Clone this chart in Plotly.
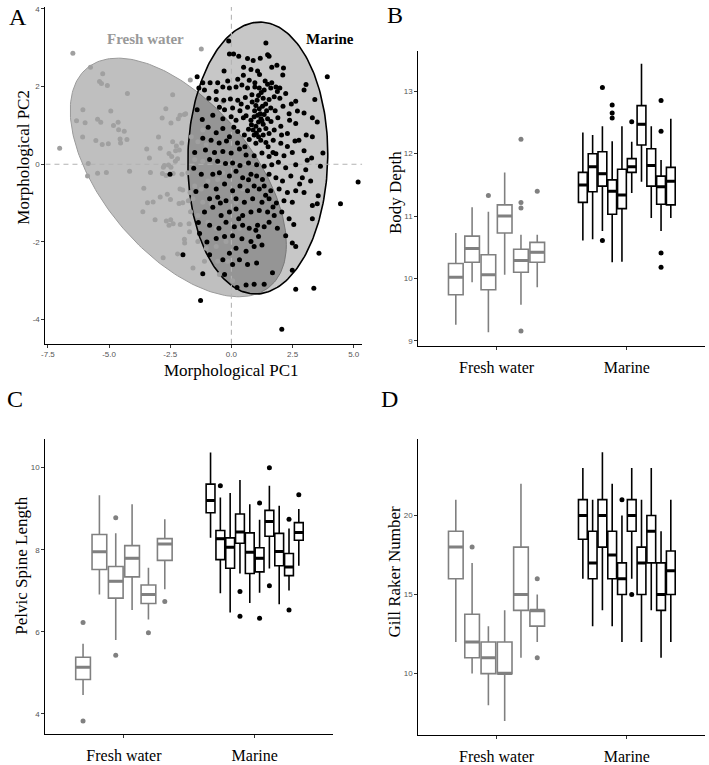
import numpy as np
import plotly.graph_objects as go

# ---------------- Panel A data (Morphological PCA) ----------------
fresh_pc1 = [-6.48, -5.76, -5.26, -5.39, -5.31, -5.07, -4.25, -2.40, -1.68, -6.07,
             -4.93, -6.33, -5.98, -5.47, -5.34, -4.63, -4.82, -4.61, -4.38, -2.68,
             -2.83, -2.47, -2.17, -2.10, -1.92, -6.08, -5.54, -5.28, -5.03, -4.55,
             -4.53, -4.27, -2.98, -3.46, -2.91, -2.40, -2.25, -2.03, -2.28, -2.13,
             -2.55, -2.44, -3.35, -2.20, -2.29, -5.85, -5.88, -5.47, -5.11, -4.16,
             -3.31, -2.74, -2.57, -2.78, -2.47, -2.82, -2.67, -2.38, -2.02, -7.02,
             -3.58, -3.43, -3.20, -2.91, -2.62, -2.49, -2.14, -1.99, -2.10, -1.99,
             -3.62, -3.12, -2.66, -2.48, -2.55, -2.38, -2.09, -1.73, -1.92, -1.91,
             -2.20, -2.79, -1.69, -1.76, -1.67,
             -1.23, -1.87, -1.17, -1.64, -1.37, -1.03, -1.50, -1.17, -0.76, -1.78,
             -1.50, -1.23, -0.96, -0.56, -1.57, -1.17, -0.83, -1.37, -0.96, -0.62,
             -1.71, -1.37, -1.03, -0.62, -0.22, -0.56, -1.10, -1.57, -0.15, 0.05,
             -0.49, 0.33, 0.19, 0.46, -0.35, -0.35]
fresh_pc2 = [2.86, 2.50, 2.33, 2.13, 2.08, 2.03, 1.82, 1.79, 2.17, 1.40,
             1.37, 1.12, 1.07, 1.16, 1.08, 1.08, 1.00, 0.89, 0.85, 1.43,
             1.19, 1.06, 1.17, 1.26, 1.28, 0.70, 0.61, 0.51, 0.53, 0.65,
             0.55, 0.64, 0.70, 0.39, 0.41, 0.58, 0.47, 0.55, 0.35, 0.37,
             0.28, 0.20, 0.16, 0.14, 0.08, 0.02, -0.30, -0.23, -0.21, -0.18,
             -0.21, -0.03, -0.02, -0.08, -0.08, -0.24, -0.29, -0.24, -0.26, 0.41,
             -0.62, -0.99, -0.97, -0.84, -0.77, -0.91, -1.01, -0.99, -0.64, -0.66,
             -1.22, -1.43, -1.46, -1.43, -1.57, -1.53, -1.55, -1.53, -1.93, -2.03,
             -2.31, -2.41, -0.73, -0.94, -1.22,
             2.97, 1.30, 0.88, 0.71, 0.58, 0.50, 0.12, 0.08, 0.20, -0.22,
             -0.56, -0.64, -0.43, -0.39, -0.89, -0.98, -1.02, -1.32, -1.49, -1.65,
             -1.74, -1.99, -2.16, -2.12, -1.99, -2.50, -2.50, -2.67, -2.50, -3.00,
             -2.84, -1.65, -0.98, -0.64, -0.22, 1.61]

marine_pc1 = [-0.11, 1.41, -0.08, 0.09, 0.30, 0.66, 0.89, 1.18, 1.48, 1.54,
              1.86, 2.13, 3.92, 0.80, 1.07, 1.15, -1.17, -0.87, -0.56, -0.15,
              0.26, 0.49, 0.73, 0.96, 1.38, 1.48, 1.65, 1.82, 1.98, 1.88,
              1.61, 1.34, 1.14, 0.96, 0.66, 0.43, 0.19, -0.08, -0.35, -0.62,
              -1.33, -1.10, 2.97, -0.92, -0.62, -0.31, -0.04, 0.26, 0.57, 0.84,
              1.11, 1.30, 1.54, 1.75, 1.98, 2.22, 2.63, 3.41, -0.49, -0.28,
              0.05, 0.35, 0.66, 1.00, 1.14, 1.27, 1.44, 1.61, 1.79, 2.11,
              2.36, 2.70, 2.97, -1.19, -0.76, -0.35, -0.01, 0.19, 0.49, 0.80,
              0.93, 1.07, 1.21, 1.34, 1.48, 1.11, 1.30, 1.00, 0.89, 1.14,
              1.41, 0.93, 1.11, 1.30, 1.54, 1.75, 2.02, 2.38, 2.63, 3.31,
              3.51, 2.29, 2.76, 3.06, 3.31, -0.35, -0.62, -1.17, -0.83, -0.08,
              0.26, 0.53, 0.73, 1.00, 1.41, 1.71, 2.02, 2.29, -1.06, -0.69,
              -0.35, -0.01, 0.33, 0.60, 0.93, 1.25, 1.54, 1.82, 2.15, 2.49,
              2.97, 3.28, 3.74, 3.64, -0.89, -0.56, -0.24, 0.05, 0.35, 0.70,
              1.03, 1.34, 1.65, 1.92, 2.22, 2.63, 3.04, -1.23, -0.76, -0.49,
              -0.08, 0.19, 0.46, 0.80, 1.03, 1.27, 1.54, 1.82, 2.09, 2.43,
              2.79, 3.24, 5.18, 4.46, -1.03, -0.62, -0.28, 0.05, 0.35, 0.66,
              0.93, 1.14, 1.34, 1.61, 1.95, 2.29, 2.63, 2.97, 3.55, -0.89,
              -0.56, -0.22, 0.19, 0.53, 0.87, 1.25, 1.54, 1.84, 2.15, 2.49,
              3.31, 3.51, -1.10, -0.76, -0.42, -0.08, 0.19, 0.46, 0.80, 1.14,
              1.48, 1.75, 2.06, 2.36, 3.31, -0.89, -0.51, -0.22, 0.12, 0.46,
              0.73, 1.07, 1.34, 1.54, 1.88, 2.22, -1.30, -0.62, -0.28, 0.05,
              0.43, 0.80, 1.11, 1.25, 0.93, 0.60, 0.19, -0.08, -0.35, -0.89,
              -1.98, 2.49, 2.63, 3.58, 0.33, 1.03, 0.66, 1.68, 0.05, -1.17,
              -0.28, 2.49, 0.60, 0.93, 1.34, 0.23, 2.63, 3.37, -1.26, 2.06,
              -2.51, -1.54,
              0.85, 1.05, 1.22, 1.40, 0.95, 1.18, 1.25, 0.82, 1.02, 1.20,
              0.70, 1.62, 1.50, 0.55, 1.70, 0.40, 0.60, 1.90, 2.05, 0.25,
              0.10, -0.20, -0.50, -0.95, -1.40, -1.50, -1.45, -1.35, -1.00, 0.70,
              1.40, 1.70, 1.00, 0.30, -0.45, 2.55, 2.90, 3.10, 2.60, 2.45,
              3.05, 2.10, 1.65, 0.50, -0.30, -1.40]
marine_pc2 = [3.17, 3.12, 2.84, 2.84, 2.78, 2.72, 2.67, 2.73, 2.82, 2.78,
              2.55, 2.48, 2.25, 2.44, 2.40, 2.31, 2.10, 2.10, 2.10, 2.14,
              2.19, 2.29, 2.16, 2.10, 2.14, 2.06, 2.10, 1.99, 1.96, 1.87,
              1.96, 1.91, 1.96, 1.99, 1.96, 2.04, 1.99, 1.96, 1.99, 1.87,
              1.96, 1.91, 1.91, 1.70, 1.67, 1.65, 1.68, 1.65, 1.72, 1.79,
              1.77, 1.70, 1.67, 1.74, 1.70, 1.82, 1.62, 1.67, 1.47, 1.40,
              1.45, 1.38, 1.47, 1.51, 1.43, 1.49, 1.38, 1.45, 1.38, 1.49,
              1.30, 1.37, 1.32, 1.15, 1.26, 1.17, 1.22, 1.13, 1.20, 1.13,
              1.22, 1.26, 1.17, 1.28, 1.17, 1.09, 1.03, 0.98, 0.88, 0.88,
              0.92, 0.75, 0.71, 0.75, 0.79, 0.88, 0.98, 1.13, 1.05, 1.20,
              1.09, 0.79, 0.62, 0.75, 0.71, 0.92, 0.81, 0.67, 0.62, 0.71,
              0.84, 0.75, 0.64, 0.54, 0.56, 0.62, 0.54, 0.46, 0.37, 0.30,
              0.33, 0.29, 0.39, 0.24, 0.22, 0.29, 0.20, 0.27, 0.22, 0.30,
              0.35, 0.16, 0.29, -0.05, 0.12, 0.08, 0.02, 0.03, -0.03, 0.03,
              -0.01, -0.05, -0.01, 0.05, -0.09, -0.01, -0.14, -0.26, -0.26, -0.22,
              -0.30, -0.18, -0.35, -0.26, -0.30, -0.39, -0.26, -0.35, -0.43, -0.30,
              -0.51, -0.43, -0.46, -1.02, -0.56, -0.64, -0.51, -0.68, -0.56, -0.68,
              -0.56, -0.64, -0.56, -0.68, -0.64, -0.73, -0.68, -0.73, -0.81, -0.89,
              -0.85, -0.94, -0.89, -0.98, -0.89, -0.98, -0.89, -1.00, -0.94, -0.98,
              -1.06, -1.02, -1.23, -1.11, -1.32, -1.23, -1.15, -1.32, -1.23, -1.19,
              -1.23, -1.32, -1.23, -1.40, -1.40, -1.57, -1.65, -1.49, -1.61, -1.57,
              -1.65, -1.57, -1.61, -1.49, -1.65, -1.84, -1.78, -1.91, -1.86, -1.84,
              -1.92, -1.99, -1.86, -2.08, -2.12, -2.24, -2.16, -2.29, -2.46, -2.33,
              -2.33, -2.03, -2.12, -2.29, -2.46, -2.54, -2.58, -2.79, -2.58, -2.82,
              -2.84, -2.73, -3.11, -3.09, -3.09, -3.17, -3.22, -3.19, -3.51, -4.25,
              -0.26, -0.10,
              1.60, 1.65, 1.85, 1.55, 1.38, 1.30, 1.12, 1.02, 0.80, 0.62,
              0.90, 1.10, 0.45, 0.45, 0.30, 1.55, 1.25, 1.20, 0.75, 0.55,
              0.95, 0.60, 0.55, 0.95, 1.40, 0.30, -0.70, -1.50, -2.00, -0.40,
              -0.80, -1.10, -1.70, -1.40, -1.00, -1.55, -0.35, 0.10, 0.60, 1.55,
              2.05, 2.30, 2.50, 2.50, 2.40, 2.25]

# ellipse parameters (centre, shape matrix) in PC units
fresh_ell_center = [-2.17, -0.34]
fresh_ell_shape = [[19.51, -7.60], [-7.60, 9.435]]
marine_ell_center = [1.08, 0.16]
marine_ell_shape = [[8.18, 0.30], [0.30, 12.25]]

A_XRANGE = [-7.6, 5.35]
A_YRANGE = [-4.62, 4.05]

# ---------------- Box plot summaries ----------------
categories = ["Fresh water", "Marine"]

# Panel B: Body Depth
B_fw_q1 = [9.74, 10.26, 9.82, 10.73, 10.10, 10.26]
B_fw_med = [10.02, 10.48, 10.06, 11.00, 10.29, 10.42]
B_fw_q3 = [10.24, 10.68, 10.38, 11.18, 10.47, 10.58]
B_fw_lo = [9.26, 9.94, 9.14, 10.06, 9.58, 9.86]
B_fw_hi = [10.73, 11.14, 11.07, 11.70, 10.70, 10.70]
B_fw_out_idx = [2, 4, 4, 4, 4, 5]
B_fw_out_val = [11.33, 12.23, 11.22, 11.13, 9.16, 11.40]

B_ma_q1 = [11.22, 11.39, 11.48, 11.03, 11.12, 11.70, 12.14, 11.48, 11.19, 11.18]
B_ma_med = [11.50, 11.79, 11.68, 11.40, 11.34, 11.79, 12.47, 11.81, 11.47, 11.56]
B_ma_q3 = [11.70, 12.00, 12.03, 11.58, 11.75, 11.92, 12.77, 12.08, 11.64, 11.78]
B_ma_lo = [10.61, 10.63, 10.76, 10.26, 10.27, 11.37, 11.55, 10.97, 10.76, 10.97]
B_ma_hi = [12.34, 12.30, 12.44, 12.20, 12.44, 12.19, 13.44, 12.44, 11.90, 12.56]
B_ma_out_idx = [2, 2, 3, 3, 3, 5, 8, 8, 8, 8]
B_ma_out_val = [13.06, 10.61, 12.78, 12.65, 12.57, 12.51, 12.85, 12.36, 10.41, 10.18]

# Panel C: Pelvic Spine Length
C_fw_q1 = [4.84, 7.52, 6.82, 7.34, 6.69, 7.74]
C_fw_med = [5.14, 7.95, 7.23, 7.79, 6.91, 8.14]
C_fw_q3 = [5.38, 8.37, 7.59, 8.10, 7.14, 8.27]
C_fw_lo = [4.46, 6.91, 5.80, 6.53, 6.30, 7.04]
C_fw_hi = [5.71, 9.33, 8.40, 9.11, 7.56, 8.74]
C_fw_out_idx = [0, 0, 2, 2, 4, 5]
C_fw_out_val = [6.23, 3.83, 8.78, 5.43, 5.98, 6.74]

C_ma_q1 = [8.90, 7.76, 7.55, 8.16, 7.42, 7.46, 8.33, 7.61, 7.37, 8.23]
C_ma_med = [9.20, 8.27, 8.06, 8.43, 7.94, 7.79, 8.69, 7.96, 7.58, 8.42]
C_ma_q3 = [9.60, 8.47, 8.29, 8.87, 8.41, 8.05, 8.96, 8.40, 7.91, 8.66]
C_ma_lo = [8.29, 6.94, 6.47, 7.42, 6.70, 6.95, 7.54, 6.67, 7.01, 7.61]
C_ma_hi = [10.37, 9.27, 9.38, 9.70, 9.11, 8.73, 9.56, 9.07, 8.52, 8.99]
C_ma_out_idx = [1, 3, 3, 5, 5, 6, 6, 8, 8, 9]
C_ma_out_val = [9.56, 6.98, 6.38, 9.14, 6.33, 10.0, 7.12, 8.74, 6.53, 9.34]

# Panel D: Gill Raker Number
D_fw_q1 = [16, 11, 10, 10, 14, 13]
D_fw_med = [18, 12, 11, 10, 15, 14]
D_fw_q3 = [19, 13.75, 12, 12, 18, 14]
D_fw_lo = [12, 10, 8, 7, 11, 12]
D_fw_hi = [21, 17, 13, 14, 22, 15]
D_fw_out_idx = [1, 5, 5]
D_fw_out_val = [18, 16, 11]

D_ma_q1 = [18.5, 16, 18, 16, 15, 19, 15, 17, 14, 15]
D_ma_med = [20, 17, 20, 17.5, 16, 20, 17, 19, 15, 16.5]
D_ma_q3 = [21, 19, 21, 19, 17, 21, 18, 20, 17, 17.75]
D_ma_lo = [16, 13, 14, 13, 12, 16, 12, 14, 11, 12]
D_ma_hi = [23, 21, 24, 22, 20, 23, 21, 23, 19, 21]
D_ma_out_idx = [4, 5]
D_ma_out_val = [21, 15]

FW_COLOR = "#808080"
MA_COLOR = "#000000"
SERIF = "Liberation Serif"
SANS = "Liberation Sans"

fig = go.Figure()


def ellipse_path(center, shape, n=240):
    L = np.linalg.cholesky(np.array(shape, dtype=float))
    t = np.linspace(0, 2 * np.pi, n)
    pts = np.array(center, dtype=float)[:, None] + L @ np.vstack([np.cos(t), np.sin(t)])
    return pts[0], pts[1]


# ---- Panel A ----
ex, ey = ellipse_path(fresh_ell_center, fresh_ell_shape)
fig.add_trace(go.Scatter(x=ex, y=ey, mode="lines", fill="toself",
                         fillcolor="rgba(128,128,128,0.5)",
                         line=dict(color="#9a9a9a", width=1),
                         xaxis="x", yaxis="y", hoverinfo="skip", showlegend=False))
ex, ey = ellipse_path(marine_ell_center, marine_ell_shape)
fig.add_trace(go.Scatter(x=ex, y=ey, mode="lines", fill="toself",
                         fillcolor="rgba(0,0,0,0.22)",
                         line=dict(color="#000000", width=1.6),
                         xaxis="x", yaxis="y", hoverinfo="skip", showlegend=False))
fig.add_trace(go.Scatter(x=A_XRANGE, y=[0, 0], mode="lines",
                         line=dict(color="#b3b3b3", width=1.1, dash="5px,4px"),
                         xaxis="x", yaxis="y", hoverinfo="skip", showlegend=False))
fig.add_trace(go.Scatter(x=[0, 0], y=A_YRANGE, mode="lines",
                         line=dict(color="#b3b3b3", width=1.1, dash="5px,4px"),
                         xaxis="x", yaxis="y", hoverinfo="skip", showlegend=False))
fig.add_trace(go.Scatter(x=fresh_pc1, y=fresh_pc2, mode="markers",
                         marker=dict(color="#a0a0a0", size=5),
                         xaxis="x", yaxis="y", showlegend=False))
fig.add_trace(go.Scatter(x=marine_pc1, y=marine_pc2, mode="markers",
                         marker=dict(color="#000000", size=5),
                         xaxis="x", yaxis="y", showlegend=False))


def add_boxes(cat_pos, q1, med, q3, lo, hi, out_idx, out_val, color, xa, ya, dodge=0.75):
    n = len(q1)
    slot = dodge / n
    pos = [cat_pos - dodge / 2 + slot * (i + 0.5) for i in range(n)]
    w = slot * 0.9
    for i in range(n):
        fig.add_trace(go.Box(x=[pos[i]], q1=[q1[i]], median=[med[i]], q3=[q3[i]],
                             lowerfence=[lo[i]], upperfence=[hi[i]], width=w,
                             line=dict(color=color, width=1.6), fillcolor="white",
                             whiskerwidth=0, boxpoints=False, hoverinfo="skip",
                             xaxis=xa, yaxis=ya, showlegend=False))
    mx, my = [], []
    for i in range(n):
        mx += [pos[i] - w / 2, pos[i] + w / 2, None]
        my += [med[i], med[i], None]
    fig.add_trace(go.Scatter(x=mx, y=my, mode="lines", line=dict(color=color, width=3),
                             xaxis=xa, yaxis=ya, hoverinfo="skip", showlegend=False))
    fig.add_trace(go.Scatter(x=[pos[i] for i in out_idx], y=out_val, mode="markers",
                             marker=dict(color=color, size=5),
                             xaxis=xa, yaxis=ya, hoverinfo="skip", showlegend=False))


add_boxes(1, B_fw_q1, B_fw_med, B_fw_q3, B_fw_lo, B_fw_hi, B_fw_out_idx, B_fw_out_val, FW_COLOR, "x2", "y2")
add_boxes(2, B_ma_q1, B_ma_med, B_ma_q3, B_ma_lo, B_ma_hi, B_ma_out_idx, B_ma_out_val, MA_COLOR, "x2", "y2")
add_boxes(1, C_fw_q1, C_fw_med, C_fw_q3, C_fw_lo, C_fw_hi, C_fw_out_idx, C_fw_out_val, FW_COLOR, "x3", "y3")
add_boxes(2, C_ma_q1, C_ma_med, C_ma_q3, C_ma_lo, C_ma_hi, C_ma_out_idx, C_ma_out_val, MA_COLOR, "x3", "y3")
add_boxes(1, D_fw_q1, D_fw_med, D_fw_q3, D_fw_lo, D_fw_hi, D_fw_out_idx, D_fw_out_val, FW_COLOR, "x4", "y4")
add_boxes(2, D_ma_q1, D_ma_med, D_ma_q3, D_ma_lo, D_ma_hi, D_ma_out_idx, D_ma_out_val, MA_COLOR, "x4", "y4")

W, H = 709, 765


def dom_x(a, b):
    return [a / W, b / W]


def dom_y(top, bottom):
    return [1 - bottom / H, 1 - top / H]


base = dict(showline=True, linecolor="black", linewidth=1.2, ticks="outside", ticklen=3,
            tickwidth=1, tickcolor="#333333", showgrid=False, zeroline=False,
            tickfont=dict(family=SANS, size=8, color="#555555"))
cat_x = dict(base, tickvals=[1, 2], ticktext=categories, range=[0.4, 2.6],
             tickfont=dict(family=SERIF, size=16, color="black"), ticklabelstandoff=4)

layout = dict(
    width=W, height=H, margin=dict(l=0, r=0, t=0, b=0),
    paper_bgcolor="white", plot_bgcolor="rgba(0,0,0,0)", boxmode="overlay",
    xaxis=dict(base, domain=dom_x(41.7, 360.3), range=A_XRANGE, anchor="y",
               tickvals=[-7.5, -5, -2.5, 0, 2.5, 5],
               ticktext=["-7.5", "-5.0", "-2.5", "0.0", "2.5", "5.0"]),
    yaxis=dict(base, domain=dom_y(5, 346.7), range=A_YRANGE, anchor="x",
               tickvals=[-4, -2, 0, 2, 4], ticktext=["-4", "-2", "0", "2", "4"]),
    xaxis2=dict(cat_x, domain=dom_x(416.7, 705), anchor="y2"),
    yaxis2=dict(base, domain=dom_y(50, 349), range=[8.92, 13.64], anchor="x2",
                tickvals=[9, 10, 11, 12, 13]),
    xaxis3=dict(cat_x, domain=dom_x(41.7, 331), anchor="y3"),
    yaxis3=dict(base, domain=dom_y(443.3, 742.7), range=[3.51, 10.70], anchor="x3",
                tickvals=[4, 6, 8, 10]),
    xaxis4=dict(cat_x, domain=dom_x(416.7, 705), anchor="y4"),
    yaxis4=dict(base, domain=dom_y(443.3, 743.3), range=[6.14, 24.84], anchor="x4",
                tickvals=[10, 15, 20]),
)


def ann(text, px, py, size=17, angle=0, color="black", bold=False):
    t = f"<b>{text}</b>" if bold else text
    return dict(text=t, x=px / W, y=1 - py / H, xref="paper", yref="paper",
                showarrow=False, textangle=angle, xanchor="center", yanchor="middle",
                font=dict(family=SERIF, size=size, color=color))


annotations = [
    ann("A", 14, 15, size=24), ann("B", 393, 13, size=24),
    ann("C", 11, 403, size=24), ann("D", 388, 403, size=24),
    ann("Morphological PC1", 229, 374, size=17),
    ann("Morphological PC2", 20, 157, size=17, angle=-90),
    ann("Body Depth", 393, 193, size=17, angle=-90),
    ann("Pelvic Spine Length", 18, 572, size=17, angle=-90),
    ann("Gill Raker Number", 393, 578, size=17, angle=-90),
    dict(text="<b>Fresh water</b>", x=-3.52, y=3.23, xref="x", yref="y", showarrow=False,
         font=dict(family=SERIF, size=15, color="#999999")),
    dict(text="<b>Marine</b>", x=4.04, y=3.23, xref="x", yref="y", showarrow=False,
         font=dict(family=SERIF, size=15, color="black")),
]
layout["annotations"] = annotations
fig.update_layout(**layout)

fig.write_html("out.html")
